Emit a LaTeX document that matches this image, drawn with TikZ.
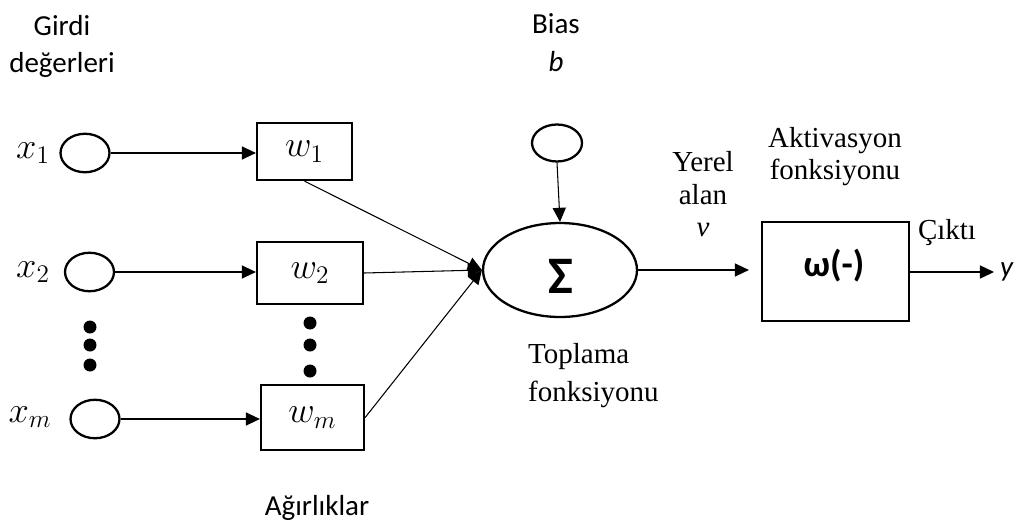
\documentclass[tikz,border=0pt]{standalone}
\usepackage{fontspec}
\setmainfont{Carlito}
\newfontfamily\tnr{Liberation Serif}
\usetikzlibrary{arrows.meta,shapes.geometric}

\begin{document}
\begin{tikzpicture}[x={(0.02cm,0)},y={(0,-0.02cm)},
  font=\fontsize{16.5}{21}\selectfont,
  arr/.style={-{Triangle[length=8pt,width=7.5pt]},line width=0.6pt},
  inp/.style={draw,ellipse,line width=1.3pt,inner sep=0pt,minimum width=0.98cm,minimum height=0.77cm},
  wbox/.style={draw,rectangle,line width=1.3pt,inner sep=0pt,font=\fontsize{20}{20}\selectfont},
  mth/.style={font=\fontsize{20}{20}\selectfont},
  dot/.style={circle,fill,inner sep=0pt,minimum size=0.26cm},
  serif/.style={font=\tnr\fontsize{16.5}{18.5}\selectfont,align=center}]
\useasboundingbox (0,0) rectangle (1016,527);

%inputs
\node (girdi) [align=center] at (62,46.5) {Girdi\\değerleri};
\node (x1) [inp] at (85,153) {};
\node (x2) [inp] at (89.5,272) {};
\node (xm) [inp] at (95,419) {};
\node (lx1) [mth] at (33,153) {$x_1$};
\node (lx2) [mth] at (33,272) {$x_2$};
\node (lxm) [mth] at (30,417) {$x_m$};
\node (d1) [dot] at (90,327) {};
\node (d2) [dot] at (90,345) {};
\node (d3) [dot] at (90,365) {};

%weights
\node (w1) [wbox,minimum width=1.9cm,minimum height=1.14cm] at (304.5,151.5) {$w_1$};
\node (w2) [wbox,minimum width=2.12cm,minimum height=1.24cm] at (310,273) {$w_2$};
\node (wm) [wbox,minimum width=2.06cm,minimum height=1.3cm] at (312.5,417.5) {$w_m$};
\node (e1) [dot] at (310,323) {};
\node (e2) [dot] at (310,345) {};
\node (e3) [dot] at (310,371) {};
\node (agir) at (317,508) {Ağırlıklar};

\draw [arr] (x1.east) -- (x1.east -| w1.west);
\draw [arr] (x2.east) -- (x2.east -| w2.west);
\draw [arr] (xm.east) -- (xm.east -| wm.west);

%sum
\node (sum) [draw,ellipse,line width=1.3pt,inner sep=0pt,minimum width=3.08cm,minimum height=1.88cm] at (560,270) {};
\node (sig) at (561,276) {\fontsize{30}{30}\selectfont\bfseries Σ};
\node (bias) [inp,minimum width=1.0cm,minimum height=0.74cm] at (557,143) {};
\node (lbias) [align=center,font=\fontsize{16.5}{21.5}\selectfont] at (556,43) {Bias\\\textit{b}};
\node (topl) [align=left,anchor=west,font=\tnr\fontsize{16.5}{21.5}\selectfont] at (522,375.5) {Toplama\\fonksiyonu};

\draw [arr] (w1.south) -- (sum.west);
\draw [arr] (w2.east) -- (sum.west);
\draw [arr] (wm.east) -- (sum.west);
\draw [arr] (bias.south) -- (sum.north);

%activation
\node (act) [wbox,minimum width=2.94cm,minimum height=1.98cm] at (835.5,271.5) {};
\node (phi) at (834,266) {\fontsize{21}{21}\selectfont\bfseries ω(-)};
\node (yerel) [serif] at (703,194.5) {Yerel\\alan\\\textit{v}};
\node (aktiv) [serif] at (835,156.5) {Aktivasyon\\fonksiyonu};
\node (cikti) [serif] at (947,233) {Çıktı};
\node (yout) at (1007,272) {\textit{y}};

\draw [arr,shorten >=0.24cm] (sum.east) -- (sum.east -| act.west);
\draw [arr] (act.east |- yout) -- (yout.west);
\end{tikzpicture}
\end{document}
